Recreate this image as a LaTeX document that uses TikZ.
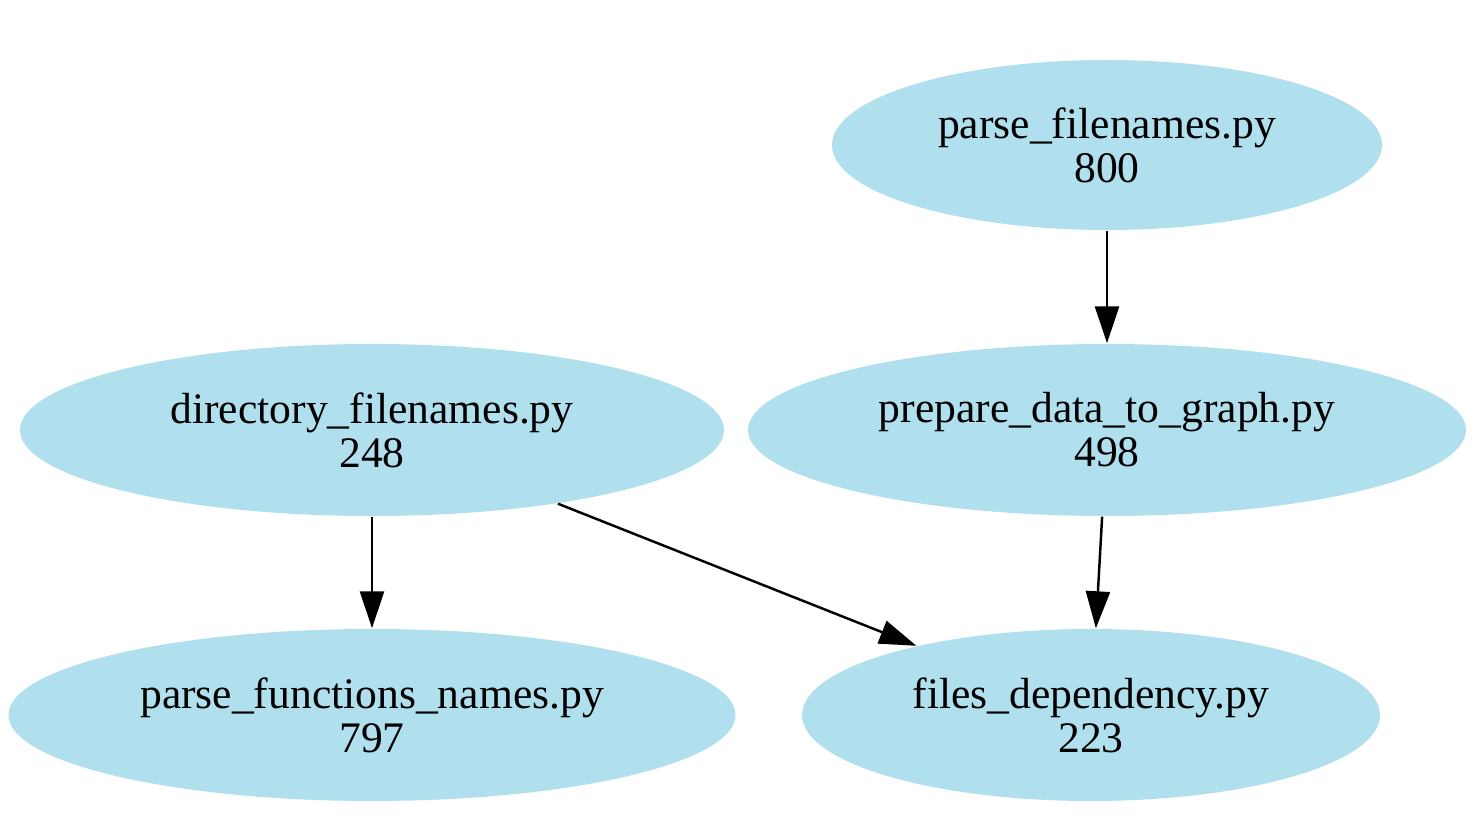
\documentclass[tikz,border=0pt]{standalone}
\usepackage{fontspec}
\setmainfont{Liberation Serif}
\usetikzlibrary{positioning, arrows.meta, shapes.geometric}
\definecolor{pyblue}{HTML}{B0DFEE}
\begin{document}
\begin{tikzpicture}[
  font=\fontsize{12.4}{12.5}\selectfont,
  pyfile/.style = {ellipse, fill=pyblue, draw=none, inner sep=0pt, align=center, minimum height=1.72cm},
  dep/.style    = {-{Triangle[length=0.37cm, width=0.24cm]}, line width=0.7pt, black},
]
\useasboundingbox (0,0) rectangle (14.77,-8.29);
% files, one row per rank
\node[pyfile, minimum width=5.50cm, minimum height=1.70cm] (pfname) at (11.07,-1.45) {parse\_filenames.py\\800};
\node[pyfile, minimum width=7.04cm] (dirf)  at (3.72,-4.30)  {directory\_filenames.py\\248};
\node[pyfile, minimum width=7.18cm] (prep)  at (11.07,-4.30) {prepare\_data\_to\_graph.py\\498};
\node[pyfile, minimum width=7.27cm] (pfunc) at (3.72,-7.15)  {parse\_functions\_names.py\\797};
\node[pyfile, minimum width=5.78cm] (fdep)  at (10.91,-7.15) {files\_dependency.py\\223};
% dependencies
\draw[dep] (pfname) -- (prep);
\draw[dep] (dirf) -- (pfunc);
\draw[dep] (dirf) -- (fdep);
\draw[dep] (prep) -- (fdep);
\end{tikzpicture}
\end{document}
